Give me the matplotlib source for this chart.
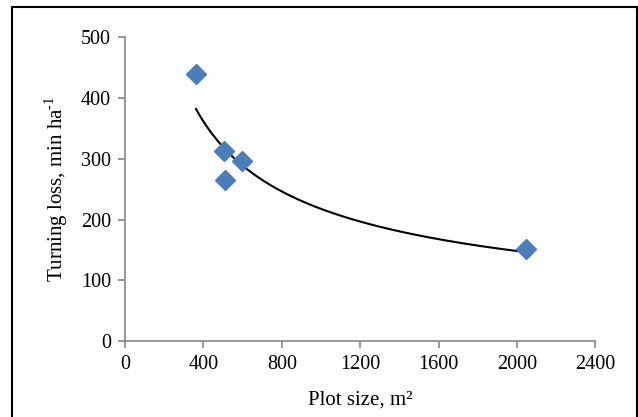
import numpy as np
import matplotlib
matplotlib.use("Agg")
import matplotlib.pyplot as plt
from matplotlib.patches import Rectangle

# plot size (m2) vs turning loss (min/ha)
plot_size = [362, 505, 510, 597, 2047]
turning_loss = [439, 312, 265, 296, 151]

x_ticks = [0, 400, 800, 1200, 1600, 2000, 2400]
y_ticks = [0, 100, 200, 300, 400, 500]

plt.rcParams['font.family'] = ['Liberation Serif', 'DejaVu Serif']
plt.rcParams['mathtext.fontset'] = 'custom'
plt.rcParams['mathtext.rm'] = 'Liberation Serif'

fig = plt.figure(figsize=(6.38, 4.17), dpi=100)
ax = fig.add_axes([0.196, 0.182, 0.737, 0.729])

# outer frame like the Excel chart area
fig.patches.append(Rectangle((12 / 638, -0.05), 625 / 638, 1.05 - 7 / 417,
                             transform=fig.transFigure, fill=False,
                             edgecolor='black', linewidth=1.5))

x = np.array(plot_size, dtype=float)
y = np.array(turning_loss, dtype=float)

# power trendline y = a * x^b
b, loga = np.polyfit(np.log(x), np.log(y), 1)
xs = np.linspace(x.min(), x.max(), 200)
ax.plot(xs, np.exp(loga) * xs ** b, color='black', linewidth=1.5, zorder=2)

ax.plot(x, y, linestyle='none', marker='D', markersize=10,
        color='#4a7ebb', markeredgecolor='#4a7ebb', zorder=3)

ax.set_xlim(0, 2400)
ax.set_ylim(0, 500)
ax.set_xticks(x_ticks)
ax.set_yticks(y_ticks)

for side in ['top', 'right']:
    ax.spines[side].set_visible(False)
for side in ['left', 'bottom']:
    ax.spines[side].set_color('#868686')
    ax.spines[side].set_linewidth(1.2)
ax.tick_params(direction='out', length=5, width=1.2, color='#868686',
               labelsize=14.5, pad=5)

ax.set_xlabel('Plot size, m²', fontsize=15, labelpad=12)
ax.set_ylabel(r'Turning loss, min ha$^{\text{-}1}$', fontsize=15, labelpad=8)

fig.savefig('out.png', dpi=100)
